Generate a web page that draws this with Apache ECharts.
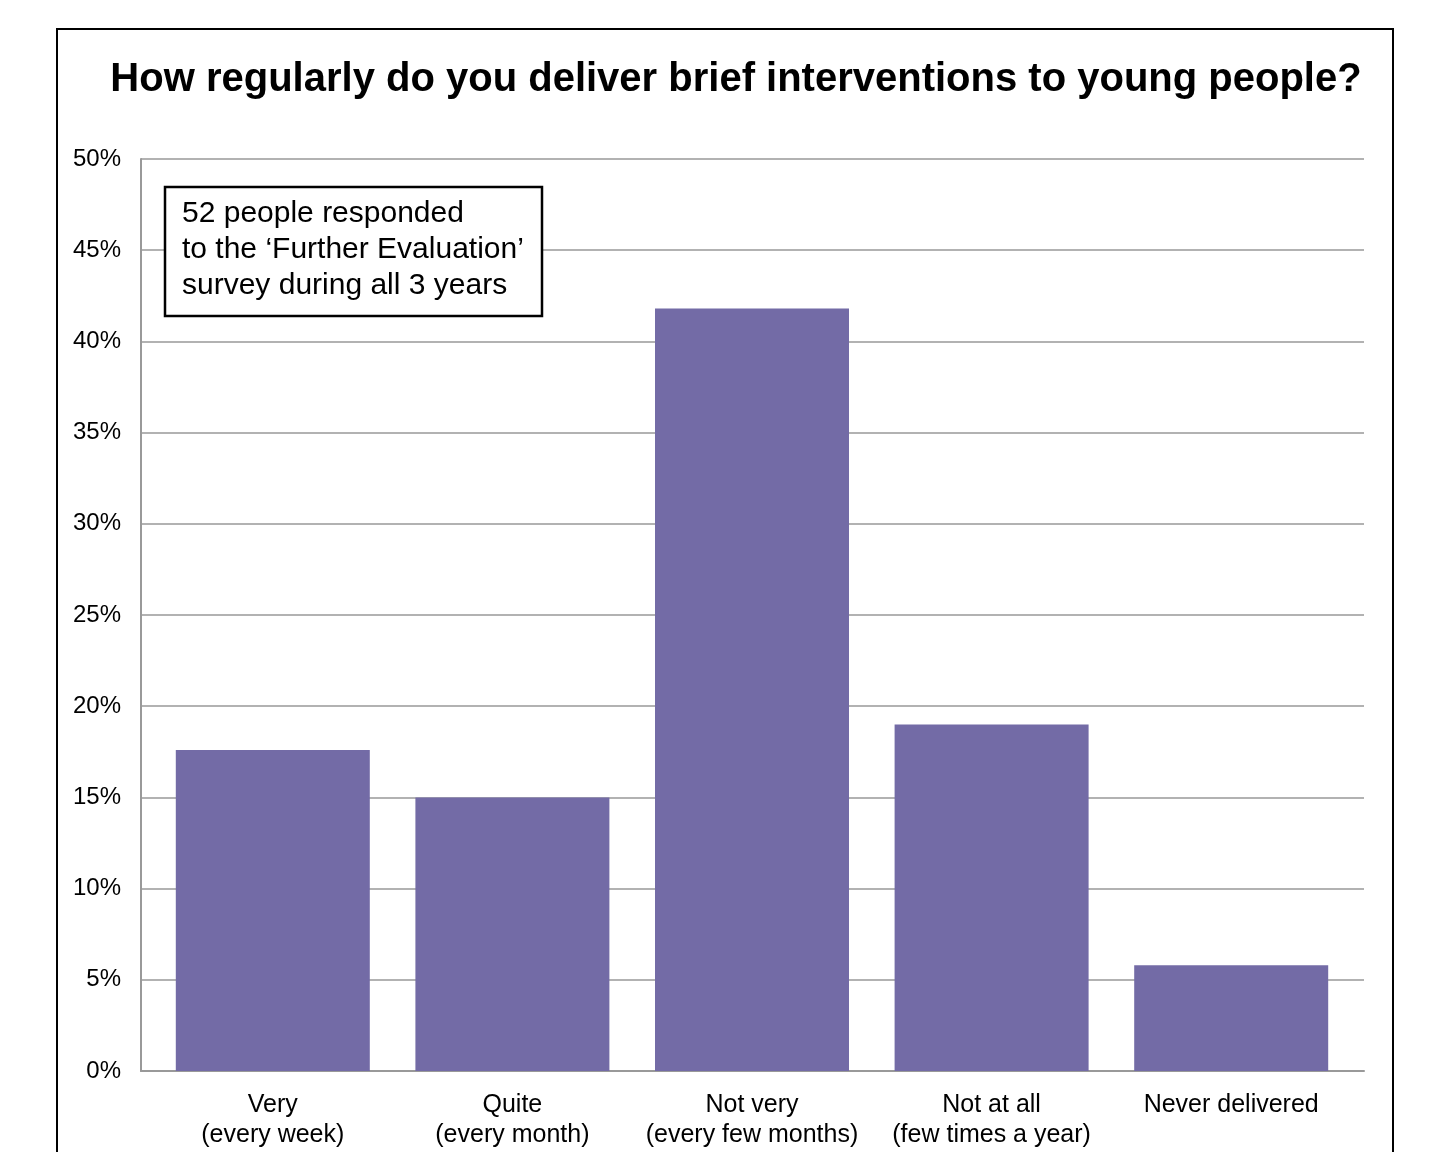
<!DOCTYPE html>
<html>
<head>
<meta charset="utf-8">
<script src="https://cdn.jsdelivr.net/npm/echarts@6/dist/echarts.min.js"></script>
<style>
  html, body { margin: 0; padding: 0; background: #fff; }
  #chart { width: 1436px; height: 1152px; }
</style>
</head>
<body>
<div id="chart"></div>
<script>
// categories and values (percent of respondents)
var categories = ['Very\n(every week)', 'Quite\n(every month)', 'Not very\n(every few months)', 'Not at all\n(few times a year)', 'Never delivered'];
var percents = [17.6, 15.0, 41.8, 19.0, 5.8];
var noteLines = ['52 people responded', 'to the \u2018Further Evaluation\u2019', 'survey during all 3 years'];

var font = '"Liberation Sans", Arial, sans-serif';
var chart = echarts.init(document.getElementById('chart'));

var option = {
  animation: false,
  title: {
    text: 'How regularly do you deliver brief interventions to young people?',
    left: 731,
    top: 55,
    textAlign: 'center',
    textStyle: { fontFamily: font, fontSize: 40, fontWeight: 'bold', color: '#000' }
  },
  // grid 0 = gridlines / y axis, grid 1 = bars and category labels
  grid: [
    { left: 141, right: 72, top: 159, bottom: 81 },
    { left: 153, right: 85, top: 159, bottom: 81 }
  ],
  xAxis: [
    {
      type: 'category',
      gridIndex: 0,
      data: categories,
      axisLine: { lineStyle: { color: '#999', width: 2 } },
      axisTick: { show: false },
      axisLabel: { show: false }
    },
    {
      type: 'category',
      gridIndex: 1,
      data: categories,
      axisLine: { show: false },
      axisTick: { show: false },
      axisLabel: {
        fontFamily: font, fontSize: 25, color: '#000',
        lineHeight: 30, margin: 19, interval: 0
      }
    }
  ],
  yAxis: [
    {
      type: 'value',
      gridIndex: 0,
      min: 0, max: 50, interval: 5,
      axisLine: { show: true, lineStyle: { color: '#999', width: 2 } },
      axisTick: { show: false },
      splitLine: { lineStyle: { color: '#999', width: 1.5 } },
      axisLabel: {
        fontFamily: font, fontSize: 24, color: '#000', margin: 20,
        formatter: function (v) { return v + '%'; }
      }
    },
    {
      type: 'value',
      gridIndex: 1,
      min: 0, max: 50, interval: 5,
      show: false
    }
  ],
  series: [{
    type: 'bar',
    xAxisIndex: 1,
    yAxisIndex: 1,
    data: percents,
    barWidth: 194,
    itemStyle: { color: '#736BA6' }
  }],
  graphic: [
    {
      type: 'rect',
      shape: { x: 57, y: 29, width: 1336, height: 1160 },
      style: { fill: 'none', stroke: '#000', lineWidth: 2 },
      z: 100
    },
    {
      type: 'rect',
      shape: { x: 165, y: 187, width: 377, height: 129 },
      style: { fill: '#fff', stroke: '#000', lineWidth: 2.5 },
      z: 100
    },
    {
      type: 'text',
      left: 182,
      top: 196,
      style: {
        text: noteLines.join('\n'),
        fontFamily: font, fontSize: 30, lineHeight: 36, fill: '#000'
      },
      z: 101
    }
  ]
};

chart.setOption(option);
</script>
</body>
</html>
